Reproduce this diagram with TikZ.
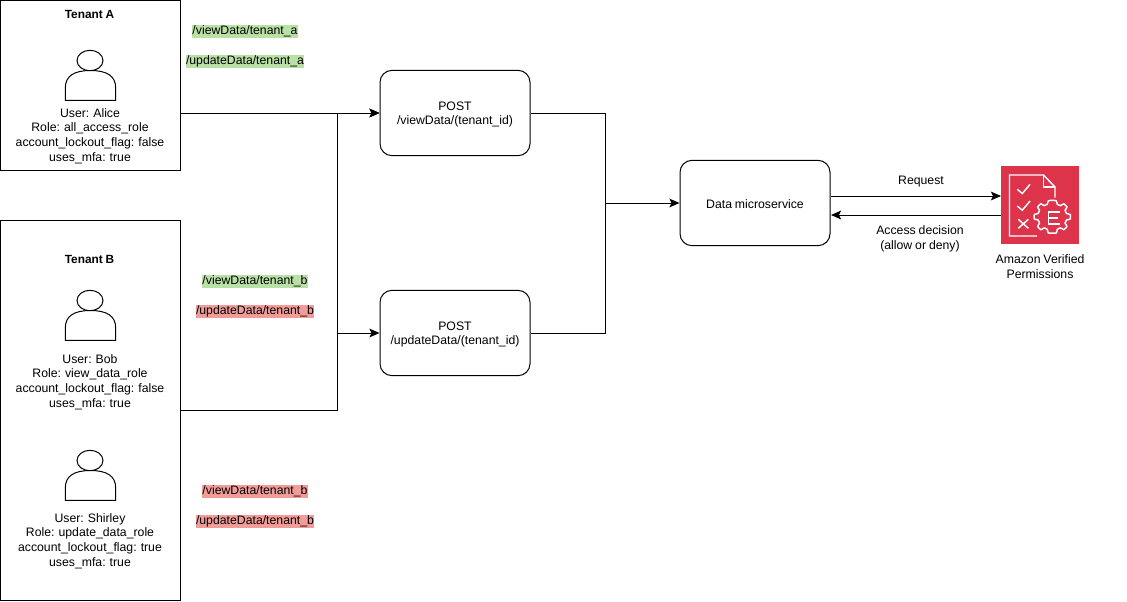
\documentclass[tikz,border=0pt]{standalone}
\usepackage{fontspec}
\setmainfont[WordSpace=0.85]{Liberation Sans}
\usetikzlibrary{arrows.meta}
\definecolor{allowgreen}{HTML}{B9E0A5}
\definecolor{denyred}{HTML}{F19C99}
\definecolor{avpred}{HTML}{DD344C}
\tikzset{
  flow/.style={line width=0.75pt,-{Stealth[length=7.5pt,width=6.5pt,inset=1.5pt]}},
  wire/.style={line width=0.75pt},
  tenantbox/.style={draw,line width=0.75pt,inner sep=0pt},
  servicebox/.style={draw,line width=0.75pt,rounded corners=9pt,minimum width=112.5pt,minimum height=64pt},
  servicetext/.style={align=center,yshift=-1pt},
  userinfo/.style={align=center},
  pathtag/.style={inner xsep=0pt,inner ysep=0pt,minimum height=9.75pt},
  person/.pic={
    \draw [line width=0.75pt] (90,60.5) ellipse [x radius=13,y radius=10.2];
    \draw [line width=0.75pt,fill=white] (65.3,100.3) -- (65.3,88)
         .. controls (65.3,76) and (74,70.5) .. (90.5,70.5)
         .. controls (107,70.5) and (115.7,76) .. (115.7,88)
         -- (115.7,100.3) -- cycle;
  },
}
\begin{document}
\begin{tikzpicture}[x=0.75pt,y=-0.75pt,font=\fontsize{9.2}{11}\selectfont]
\useasboundingbox (0,0) rectangle (1127,601);
%
% Tenants
\node [tenantbox,minimum width=135pt,minimum height=127.5pt] (tenantA) at (90,85) {};
\node [tenantbox,minimum width=135pt,minimum height=285pt] (tenantB) at (90,410) {};
\node [font=\fontsize{8.9}{11}\selectfont\bfseries] (titleA) at (89.5,14) {Tenant A};
\node [font=\fontsize{8.9}{11}\selectfont\bfseries] (titleB) at (89.5,259) {Tenant B};
%
% Users
\foreach \y/\name in {0/alice,240/bob,400/shirley} \pic (\name) at (0,\y) {person};
\node [userinfo] (infoAlice) at (90,135.8) {User: Alice\\Role: all\_access\_role\\account\_lockout\_flag: false\\uses\_mfa: true};
\node [userinfo] (infoBob) at (90,382) {User: Bob\\Role: view\_data\_role\\account\_lockout\_flag: false\\uses\_mfa: true};
\node [userinfo] (infoShirley) at (90,541) {User: Shirley\\Role: update\_data\_role\\account\_lockout\_flag: true\\uses\_mfa: true};
%
% Paths
\foreach \x/\y/\col/\txt/\name in {
    245/31/allowgreen/viewData/tagA1,
    245/61/allowgreen/updateData/tagA2}
  \node [pathtag,fill=\col] (\name) at (\x,\y) {/\txt/tenant\_a};
\foreach \x/\y/\col/\txt/\name in {
    255/281/allowgreen/viewData/tagB1,
    255/311/denyred/updateData/tagB2,
    255/491/denyred/viewData/tagB3,
    255/521/denyred/updateData/tagB4}
  \node [pathtag,fill=\col] (\name) at (\x,\y) {/\txt/tenant\_b};
%
% Services
\node [servicebox,label={[servicetext]center:POST\\/viewData/(tenant\_id)}] (postView) at (455,113) {};
\node [servicebox,label={[servicetext]center:POST\\/updateData/(tenant\_id)}] (postUpdate) at (455,333) {};
\node [servicebox,label={[servicetext]center:Data microservice}] (dataService) at (755,203) {};
%
% Amazon Verified Permissions
\node [fill=avpred,minimum width=58.5pt,minimum height=58.5pt,inner sep=0pt] (avp) at (1040,205) {};
\begin{scope}[white,line width=1.1pt,line join=miter]
  \draw (1037,236) -- (1009.5,236) -- (1009.5,175) -- (1043.5,175) -- (1055,187) -- (1055,197.5);
  \draw (1043.5,175) -- (1043.5,187) -- (1055,187);
  \draw (1017.3,189.3) -- (1022.3,193.5) -- (1030,184.3);
  \draw (1017.3,206) -- (1022.3,210.2) -- (1030,201);
  \draw (1018.3,219.3) -- (1028.3,228.3) (1028.3,219.3) -- (1018.3,228.3);
  \draw [line join=round] plot[smooth cycle,tension=0.25] coordinates{
    (1052.3,200.3) (1056.3,200.8) (1057.3,204.2) (1060.5,205.6) (1063.8,203.8) (1067,207) (1065.1,210.3)
    (1066.5,213.5) (1070.3,214.5) (1070.3,219) (1066.5,220) (1065.1,223.2) (1067,226.5) (1063.8,229.7)
    (1060.5,227.9) (1057.3,229.3) (1056.3,233) (1048.3,233) (1047.3,229.3) (1044.1,227.9) (1040.8,229.7)
    (1037.6,226.5) (1039.5,223.2) (1038.1,220) (1034.3,219) (1034.3,214.5) (1038.1,213.5) (1039.5,210.3)
    (1037.6,207) (1040.8,203.8) (1044.1,205.6) (1047.3,204.2) (1048.3,200.8)};
  \draw (1060,212) -- (1048.5,212) -- (1048.5,224) -- (1060,224) (1048.5,218) -- (1058,218);
\end{scope}
\node [align=center] (avpLabel) at (1040,266.5) {Amazon Verified\\Permissions};
%
% Connectors
\coordinate (busView) at (337,113);
\coordinate (merge) at (605,203);
\draw [flow] (tenantA.east |- postView.west) -- (postView.west);
\draw [flow] (tenantB.east) -| (busView) -- (postView.west);
\draw [flow] (busView |- postUpdate.west) -- (postUpdate.west);
\draw [flow] (postView.east) -| (merge) -- (dataService.west);
\draw [wire] (postUpdate.east) -| (merge);
%
\coordinate (reqStart) at (831,196);
\coordinate (reqEnd) at (1001,196);
\coordinate (decStart) at (1001,215);
\coordinate (decEnd) at (831,215);
\draw [flow] (reqStart) -- (reqEnd);
\draw [flow] (decStart) -- (decEnd);
\node (reqLabel) at (921,182) {Request};
\node [align=center] (decLabel) at (920,238.5) {Access decision\\(allow or deny)};
%
\end{tikzpicture}
\end{document}
